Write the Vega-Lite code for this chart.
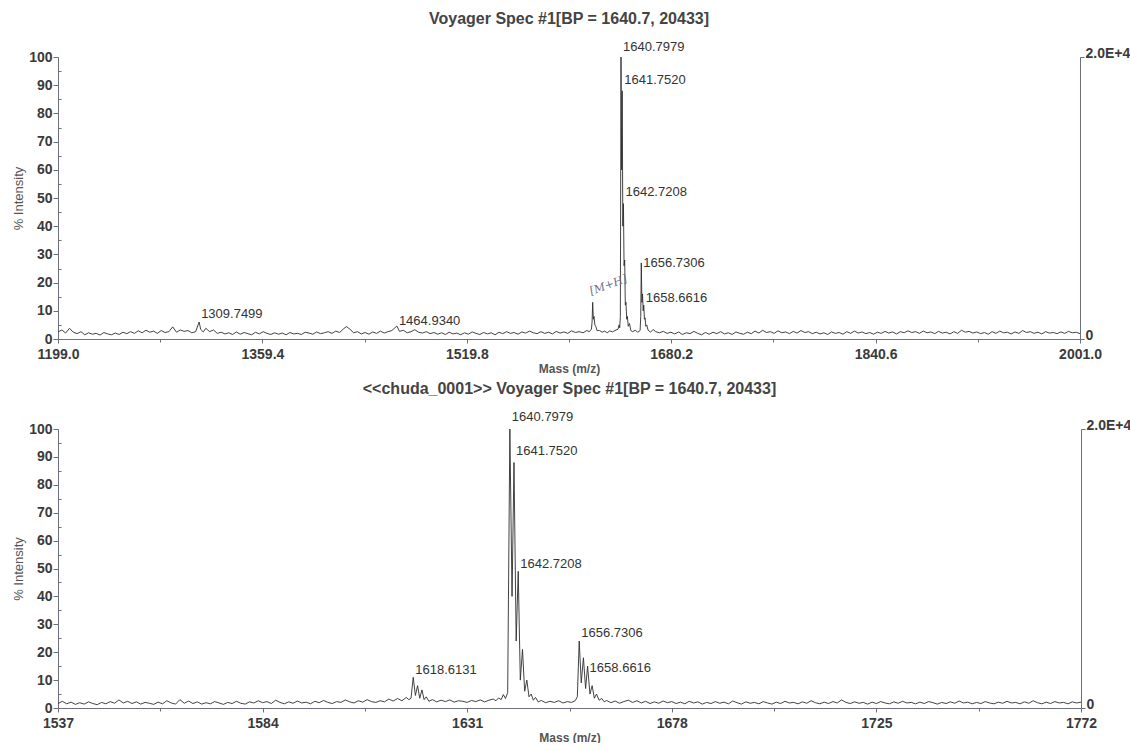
{
  "$schema": "https://vega.github.io/schema/vega-lite/v6.json",
  "background": "white",
  "padding": {"left": 12, "top": 11, "right": 0, "bottom": 0},
  "spacing": 6,
  "config": {
    "font": "Liberation Sans",
    "view": {"stroke": null},
    "axis": {
      "grid": false,
      "labelFont": "Liberation Sans",
      "labelFontWeight": "bold",
      "labelFontSize": 14,
      "labelColor": "#3a3a3a",
      "domainColor": "#6e6e80",
      "tickColor": "#6e6e80",
      "titleFont": "Liberation Sans",
      "titleColor": "#555555"
    },
    "title": {"font": "Liberation Sans", "fontSize": 16, "fontWeight": "bold", "color": "#444444", "baseline": "bottom", "offset": 14}
  },
  "datasets": {
    "top": [
      {"mz":1199,"intensity":2.5},{"mz":1202,"intensity":3.2},{"mz":1205,"intensity":2.1},{"mz":1208,"intensity":3.8},{"mz":1211,"intensity":2.4},{"mz":1214,"intensity":1.9},{"mz":1217,"intensity":2.6},{"mz":1220,"intensity":1.5},{"mz":1223,"intensity":2.2},{"mz":1226,"intensity":1.7},{"mz":1229,"intensity":2.0},{"mz":1232,"intensity":1.4},{"mz":1235,"intensity":2.3},{"mz":1238,"intensity":1.8},{"mz":1241,"intensity":1.5},{"mz":1244,"intensity":2.1},{"mz":1247,"intensity":1.6},{"mz":1250,"intensity":2.4},{"mz":1253,"intensity":1.9},{"mz":1256,"intensity":2.6},{"mz":1259,"intensity":2.0},{"mz":1262,"intensity":2.9},{"mz":1265,"intensity":2.2},{"mz":1268,"intensity":3.1},{"mz":1271,"intensity":2.4},{"mz":1274,"intensity":2.8},{"mz":1277,"intensity":2.0},{"mz":1280,"intensity":3.0},{"mz":1283,"intensity":2.3},{"mz":1286,"intensity":2.6},{"mz":1289,"intensity":4.3},{"mz":1292,"intensity":2.4},{"mz":1295,"intensity":3.2},{"mz":1298,"intensity":2.7},{"mz":1301,"intensity":3.0},{"mz":1304,"intensity":2.2},{"mz":1307,"intensity":2.6},{"mz":1309.75,"intensity":6.0},{"mz":1311,"intensity":3.4},{"mz":1313,"intensity":2.5},{"mz":1315,"intensity":3.8},{"mz":1318,"intensity":2.6},{"mz":1321,"intensity":3.2},{"mz":1324,"intensity":2.0},{"mz":1327,"intensity":2.4},{"mz":1330,"intensity":1.8},{"mz":1333,"intensity":2.2},{"mz":1336,"intensity":1.6},{"mz":1339,"intensity":2.5},{"mz":1342,"intensity":1.7},{"mz":1345,"intensity":2.3},{"mz":1348,"intensity":1.9},{"mz":1351,"intensity":1.5},{"mz":1354,"intensity":2.4},{"mz":1357,"intensity":1.8},{"mz":1360,"intensity":2.6},{"mz":1363,"intensity":2.0},{"mz":1366,"intensity":1.6},{"mz":1369,"intensity":2.2},{"mz":1372,"intensity":1.7},{"mz":1375,"intensity":2.1},{"mz":1378,"intensity":1.5},{"mz":1381,"intensity":2.3},{"mz":1384,"intensity":1.8},{"mz":1387,"intensity":2.0},{"mz":1390,"intensity":1.6},{"mz":1393,"intensity":2.4},{"mz":1396,"intensity":2.1},{"mz":1399,"intensity":1.7},{"mz":1402,"intensity":2.5},{"mz":1405,"intensity":1.9},{"mz":1408,"intensity":2.2},{"mz":1411,"intensity":2.6},{"mz":1414,"intensity":2.0},{"mz":1417,"intensity":2.8},{"mz":1420,"intensity":2.3},{"mz":1423,"intensity":3.6},{"mz":1425.5,"intensity":4.4},{"mz":1428,"intensity":3.5},{"mz":1431,"intensity":2.2},{"mz":1434,"intensity":2.6},{"mz":1437,"intensity":1.8},{"mz":1440,"intensity":2.3},{"mz":1443,"intensity":1.7},{"mz":1446,"intensity":2.5},{"mz":1449,"intensity":2.0},{"mz":1452,"intensity":2.8},{"mz":1455,"intensity":2.1},{"mz":1458,"intensity":2.6},{"mz":1461,"intensity":3.0},{"mz":1464.9,"intensity":4.6},{"mz":1467,"intensity":2.7},{"mz":1470,"intensity":3.1},{"mz":1473,"intensity":2.2},{"mz":1476,"intensity":2.6},{"mz":1479,"intensity":3.3},{"mz":1482,"intensity":2.4},{"mz":1485,"intensity":2.1},{"mz":1488,"intensity":2.6},{"mz":1491,"intensity":1.9},{"mz":1494,"intensity":2.3},{"mz":1497,"intensity":1.7},{"mz":1500,"intensity":2.2},{"mz":1503,"intensity":1.6},{"mz":1506,"intensity":2.4},{"mz":1509,"intensity":1.8},{"mz":1512,"intensity":2.1},{"mz":1515,"intensity":1.5},{"mz":1518,"intensity":2.2},{"mz":1521,"intensity":1.7},{"mz":1524,"intensity":2.5},{"mz":1527,"intensity":2.0},{"mz":1530,"intensity":1.6},{"mz":1533,"intensity":2.3},{"mz":1536,"intensity":1.8},{"mz":1539,"intensity":2.2},{"mz":1542,"intensity":1.5},{"mz":1545,"intensity":2.4},{"mz":1548,"intensity":1.9},{"mz":1551,"intensity":2.6},{"mz":1554,"intensity":2.0},{"mz":1557,"intensity":2.3},{"mz":1560,"intensity":1.7},{"mz":1563,"intensity":2.5},{"mz":1566,"intensity":2.1},{"mz":1569,"intensity":2.8},{"mz":1572,"intensity":2.2},{"mz":1575,"intensity":1.9},{"mz":1578,"intensity":2.6},{"mz":1581,"intensity":2.0},{"mz":1584,"intensity":2.4},{"mz":1587,"intensity":1.8},{"mz":1590,"intensity":2.7},{"mz":1593,"intensity":2.1},{"mz":1596,"intensity":2.5},{"mz":1599,"intensity":2.0},{"mz":1602,"intensity":2.9},{"mz":1605,"intensity":2.3},{"mz":1608,"intensity":2.6},{"mz":1611,"intensity":2.2},{"mz":1614,"intensity":3.0},{"mz":1616,"intensity":2.6},{"mz":1617.6,"intensity":3.5},{"mz":1618.1,"intensity":6.0},{"mz":1618.6,"intensity":13.0},{"mz":1619.1,"intensity":7.0},{"mz":1619.6,"intensity":8.0},{"mz":1620.3,"intensity":5.0},{"mz":1621,"intensity":4.5},{"mz":1622,"intensity":3.0},{"mz":1624,"intensity":3.0},{"mz":1626,"intensity":2.4},{"mz":1628,"intensity":2.8},{"mz":1630,"intensity":2.2},{"mz":1632,"intensity":2.9},{"mz":1634,"intensity":2.5},{"mz":1636,"intensity":3.0},{"mz":1638.5,"intensity":3.5},{"mz":1639.3,"intensity":5.0},{"mz":1639.8,"intensity":4.0},{"mz":1640.3,"intensity":8.0},{"mz":1640.8,"intensity":100},{"mz":1641.3,"intensity":60},{"mz":1641.75,"intensity":88},{"mz":1642.25,"intensity":40},{"mz":1642.72,"intensity":48},{"mz":1643.2,"intensity":26},{"mz":1643.7,"intensity":28},{"mz":1644.2,"intensity":12},{"mz":1644.7,"intensity":13},{"mz":1645.3,"intensity":7},{"mz":1645.8,"intensity":8},{"mz":1646.5,"intensity":4.5},{"mz":1647.5,"intensity":5.5},{"mz":1648.5,"intensity":3.0},{"mz":1650,"intensity":2.6},{"mz":1652,"intensity":3.1},{"mz":1654,"intensity":2.4},{"mz":1655.8,"intensity":3.0},{"mz":1656.3,"intensity":8},{"mz":1656.73,"intensity":27},{"mz":1657.2,"intensity":13},{"mz":1657.7,"intensity":16},{"mz":1658.2,"intensity":10},{"mz":1658.66,"intensity":12},{"mz":1659.2,"intensity":7},{"mz":1659.7,"intensity":7.5},{"mz":1660.3,"intensity":4.5},{"mz":1661,"intensity":5.0},{"mz":1662,"intensity":3.2},{"mz":1664,"intensity":2.4},{"mz":1666,"intensity":3.4},{"mz":1668,"intensity":2.6},{"mz":1671,"intensity":2.2},{"mz":1674,"intensity":2.7},{"mz":1677,"intensity":2.0},{"mz":1680,"intensity":2.4},{"mz":1683,"intensity":1.8},{"mz":1686,"intensity":2.5},{"mz":1689,"intensity":1.6},{"mz":1692,"intensity":2.2},{"mz":1695,"intensity":1.9},{"mz":1698,"intensity":2.7},{"mz":1701,"intensity":2.0},{"mz":1704,"intensity":1.5},{"mz":1707,"intensity":2.3},{"mz":1710,"intensity":1.7},{"mz":1713,"intensity":2.4},{"mz":1716,"intensity":1.9},{"mz":1719,"intensity":2.6},{"mz":1722,"intensity":1.8},{"mz":1725,"intensity":2.2},{"mz":1728,"intensity":1.6},{"mz":1731,"intensity":2.5},{"mz":1734,"intensity":2.0},{"mz":1737,"intensity":1.7},{"mz":1740,"intensity":2.4},{"mz":1743,"intensity":1.9},{"mz":1746,"intensity":2.8},{"mz":1749,"intensity":2.1},{"mz":1752,"intensity":3.1},{"mz":1755,"intensity":2.3},{"mz":1758,"intensity":2.6},{"mz":1761,"intensity":2.0},{"mz":1764,"intensity":2.9},{"mz":1767,"intensity":2.2},{"mz":1770,"intensity":2.5},{"mz":1773,"intensity":1.9},{"mz":1776,"intensity":2.7},{"mz":1779,"intensity":2.1},{"mz":1782,"intensity":3.0},{"mz":1785,"intensity":2.3},{"mz":1788,"intensity":2.6},{"mz":1791,"intensity":1.9},{"mz":1794,"intensity":2.4},{"mz":1797,"intensity":1.8},{"mz":1800,"intensity":2.2},{"mz":1803,"intensity":1.6},{"mz":1806,"intensity":2.5},{"mz":1809,"intensity":2.0},{"mz":1812,"intensity":2.3},{"mz":1815,"intensity":1.7},{"mz":1818,"intensity":2.6},{"mz":1821,"intensity":2.0},{"mz":1824,"intensity":2.8},{"mz":1827,"intensity":2.1},{"mz":1830,"intensity":2.5},{"mz":1833,"intensity":1.9},{"mz":1836,"intensity":2.3},{"mz":1839,"intensity":1.7},{"mz":1842,"intensity":2.4},{"mz":1845,"intensity":2.0},{"mz":1848,"intensity":2.7},{"mz":1851,"intensity":2.1},{"mz":1854,"intensity":2.5},{"mz":1857,"intensity":1.8},{"mz":1860,"intensity":2.6},{"mz":1863,"intensity":2.2},{"mz":1866,"intensity":2.9},{"mz":1869,"intensity":2.3},{"mz":1872,"intensity":2.6},{"mz":1875,"intensity":2.0},{"mz":1878,"intensity":2.8},{"mz":1881,"intensity":2.2},{"mz":1884,"intensity":2.5},{"mz":1887,"intensity":1.9},{"mz":1890,"intensity":2.7},{"mz":1893,"intensity":2.1},{"mz":1896,"intensity":2.4},{"mz":1899,"intensity":1.8},{"mz":1902,"intensity":2.6},{"mz":1905,"intensity":2.0},{"mz":1908,"intensity":3.1},{"mz":1911,"intensity":2.4},{"mz":1914,"intensity":2.7},{"mz":1917,"intensity":2.1},{"mz":1920,"intensity":2.5},{"mz":1923,"intensity":1.9},{"mz":1926,"intensity":2.3},{"mz":1929,"intensity":1.7},{"mz":1932,"intensity":2.6},{"mz":1935,"intensity":2.0},{"mz":1938,"intensity":2.8},{"mz":1941,"intensity":2.2},{"mz":1944,"intensity":2.4},{"mz":1947,"intensity":1.8},{"mz":1950,"intensity":2.5},{"mz":1953,"intensity":2.0},{"mz":1956,"intensity":3.0},{"mz":1959,"intensity":2.3},{"mz":1962,"intensity":2.6},{"mz":1965,"intensity":2.0},{"mz":1968,"intensity":2.4},{"mz":1971,"intensity":1.8},{"mz":1974,"intensity":2.6},{"mz":1977,"intensity":2.1},{"mz":1980,"intensity":2.3},{"mz":1983,"intensity":1.9},{"mz":1986,"intensity":2.5},{"mz":1989,"intensity":2.0},{"mz":1992,"intensity":2.7},{"mz":1995,"intensity":2.2},{"mz":1998,"intensity":2.4},{"mz":2001,"intensity":1.9}
    ],
    "topLabels": [
      {"mz":1640.7979,"intensity":102,"label":"1640.7979"},
      {"mz":1641.752,"intensity":90.4,"label":"1641.7520"},
      {"mz":1642.7208,"intensity":50.7,"label":"1642.7208"},
      {"mz":1656.7306,"intensity":25.5,"label":"1656.7306"},
      {"mz":1658.6616,"intensity":13.1,"label":"1658.6616"},
      {"mz":1309.7499,"intensity":7.4,"label":"1309.7499"},
      {"mz":1464.934,"intensity":5.0,"label":"1464.9340"}
    ],
    "topNote": [
      {"mz":1631,"intensity":19,"label":"[M+H]"}
    ],
    "bottom": [
      {"mz":1537,"intensity":1.6},{"mz":1538,"intensity":2.4},{"mz":1539,"intensity":1.5},{"mz":1540,"intensity":2.1},{"mz":1541,"intensity":1.3},{"mz":1542,"intensity":1.9},{"mz":1543,"intensity":1.4},{"mz":1544,"intensity":2.2},{"mz":1545,"intensity":1.6},{"mz":1546,"intensity":1.2},{"mz":1547,"intensity":2.0},{"mz":1548,"intensity":1.5},{"mz":1549,"intensity":2.3},{"mz":1550,"intensity":1.7},{"mz":1551,"intensity":2.9},{"mz":1552,"intensity":1.8},{"mz":1553,"intensity":2.4},{"mz":1554,"intensity":1.6},{"mz":1555,"intensity":2.2},{"mz":1556,"intensity":1.4},{"mz":1557,"intensity":2.0},{"mz":1558,"intensity":1.7},{"mz":1559,"intensity":1.3},{"mz":1560,"intensity":2.1},{"mz":1561,"intensity":1.5},{"mz":1562,"intensity":2.6},{"mz":1563,"intensity":1.8},{"mz":1564,"intensity":1.4},{"mz":1565,"intensity":3.0},{"mz":1566,"intensity":1.7},{"mz":1567,"intensity":2.5},{"mz":1568,"intensity":1.6},{"mz":1569,"intensity":2.2},{"mz":1570,"intensity":1.4},{"mz":1571,"intensity":1.9},{"mz":1572,"intensity":1.5},{"mz":1573,"intensity":2.3},{"mz":1574,"intensity":1.8},{"mz":1575,"intensity":1.3},{"mz":1576,"intensity":2.0},{"mz":1577,"intensity":1.6},{"mz":1578,"intensity":2.4},{"mz":1579,"intensity":1.7},{"mz":1580,"intensity":1.4},{"mz":1581,"intensity":2.2},{"mz":1582,"intensity":1.8},{"mz":1583,"intensity":2.6},{"mz":1584,"intensity":1.9},{"mz":1585,"intensity":2.3},{"mz":1586,"intensity":1.6},{"mz":1587,"intensity":2.8},{"mz":1588,"intensity":2.0},{"mz":1589,"intensity":1.5},{"mz":1590,"intensity":2.2},{"mz":1591,"intensity":1.7},{"mz":1592,"intensity":2.5},{"mz":1593,"intensity":1.8},{"mz":1594,"intensity":2.1},{"mz":1595,"intensity":1.5},{"mz":1596,"intensity":2.4},{"mz":1597,"intensity":1.9},{"mz":1598,"intensity":2.7},{"mz":1599,"intensity":2.0},{"mz":1600,"intensity":1.6},{"mz":1601,"intensity":2.3},{"mz":1602,"intensity":2.0},{"mz":1603,"intensity":2.9},{"mz":1604,"intensity":2.2},{"mz":1605,"intensity":1.8},{"mz":1606,"intensity":2.6},{"mz":1607,"intensity":2.1},{"mz":1608,"intensity":3.0},{"mz":1609,"intensity":2.3},{"mz":1610,"intensity":2.0},{"mz":1611,"intensity":2.6},{"mz":1612,"intensity":2.2},{"mz":1613,"intensity":3.2},{"mz":1614,"intensity":2.5},{"mz":1615,"intensity":3.4},{"mz":1616,"intensity":2.6},{"mz":1617,"intensity":3.8},{"mz":1617.6,"intensity":3.0},{"mz":1618.1,"intensity":3.5},{"mz":1618.6,"intensity":11.0},{"mz":1619.1,"intensity":4.5},{"mz":1619.6,"intensity":8.0},{"mz":1620.1,"intensity":3.5},{"mz":1620.6,"intensity":6.5},{"mz":1621.1,"intensity":3.0},{"mz":1621.6,"intensity":4.0},{"mz":1622.2,"intensity":2.4},{"mz":1623,"intensity":3.0},{"mz":1624,"intensity":2.2},{"mz":1625,"intensity":2.8},{"mz":1626,"intensity":2.3},{"mz":1627,"intensity":2.9},{"mz":1628,"intensity":2.1},{"mz":1629,"intensity":2.6},{"mz":1630,"intensity":2.4},{"mz":1631,"intensity":2.0},{"mz":1632,"intensity":2.7},{"mz":1633,"intensity":2.3},{"mz":1634,"intensity":2.9},{"mz":1635,"intensity":2.2},{"mz":1636,"intensity":2.8},{"mz":1637,"intensity":3.2},{"mz":1637.6,"intensity":2.6},{"mz":1638.2,"intensity":3.6},{"mz":1638.8,"intensity":3.0},{"mz":1639.3,"intensity":4.8},{"mz":1639.8,"intensity":3.4},{"mz":1640.3,"intensity":5.5},{"mz":1640.8,"intensity":100},{"mz":1641.3,"intensity":40},{"mz":1641.75,"intensity":88},{"mz":1642.25,"intensity":24},{"mz":1642.72,"intensity":49},{"mz":1643.2,"intensity":10},{"mz":1643.7,"intensity":21},{"mz":1644.2,"intensity":6},{"mz":1644.7,"intensity":10},{"mz":1645.2,"intensity":4},{"mz":1645.7,"intensity":5},{"mz":1646.2,"intensity":2.8},{"mz":1646.7,"intensity":3.8},{"mz":1647.3,"intensity":2.2},{"mz":1648,"intensity":2.7},{"mz":1649,"intensity":1.9},{"mz":1650,"intensity":2.4},{"mz":1651,"intensity":2.0},{"mz":1652,"intensity":2.6},{"mz":1653,"intensity":1.8},{"mz":1654,"intensity":2.3},{"mz":1655,"intensity":2.0},{"mz":1655.8,"intensity":2.6},{"mz":1656.3,"intensity":4.0},{"mz":1656.73,"intensity":24},{"mz":1657.2,"intensity":9},{"mz":1657.7,"intensity":18},{"mz":1658.2,"intensity":7},{"mz":1658.66,"intensity":15},{"mz":1659.2,"intensity":5},{"mz":1659.7,"intensity":8},{"mz":1660.2,"intensity":3.5},{"mz":1660.7,"intensity":5},{"mz":1661.3,"intensity":2.8},{"mz":1661.9,"intensity":3.4},{"mz":1662.5,"intensity":2.2},{"mz":1663,"intensity":2.7},{"mz":1664,"intensity":1.9},{"mz":1665,"intensity":2.5},{"mz":1666,"intensity":1.7},{"mz":1667,"intensity":2.3},{"mz":1668,"intensity":2.8},{"mz":1669,"intensity":2.0},{"mz":1670,"intensity":2.6},{"mz":1671,"intensity":1.8},{"mz":1672,"intensity":2.4},{"mz":1673,"intensity":1.6},{"mz":1674,"intensity":2.2},{"mz":1675,"intensity":1.7},{"mz":1676,"intensity":2.5},{"mz":1677,"intensity":1.9},{"mz":1678,"intensity":2.3},{"mz":1679,"intensity":1.6},{"mz":1680,"intensity":2.1},{"mz":1681,"intensity":1.5},{"mz":1682,"intensity":2.4},{"mz":1683,"intensity":1.8},{"mz":1684,"intensity":2.2},{"mz":1685,"intensity":1.4},{"mz":1686,"intensity":2.0},{"mz":1687,"intensity":1.6},{"mz":1688,"intensity":2.3},{"mz":1689,"intensity":1.7},{"mz":1690,"intensity":2.1},{"mz":1691,"intensity":1.5},{"mz":1692,"intensity":2.5},{"mz":1693,"intensity":1.9},{"mz":1694,"intensity":1.4},{"mz":1695,"intensity":2.2},{"mz":1696,"intensity":1.7},{"mz":1697,"intensity":2.0},{"mz":1698,"intensity":1.5},{"mz":1699,"intensity":2.3},{"mz":1700,"intensity":1.8},{"mz":1701,"intensity":1.4},{"mz":1702,"intensity":2.1},{"mz":1703,"intensity":1.6},{"mz":1704,"intensity":2.4},{"mz":1705,"intensity":1.8},{"mz":1706,"intensity":2.0},{"mz":1707,"intensity":1.5},{"mz":1708,"intensity":2.2},{"mz":1709,"intensity":1.7},{"mz":1710,"intensity":2.6},{"mz":1711,"intensity":1.9},{"mz":1712,"intensity":1.5},{"mz":1713,"intensity":2.1},{"mz":1714,"intensity":1.6},{"mz":1715,"intensity":2.3},{"mz":1716,"intensity":1.8},{"mz":1717,"intensity":2.9},{"mz":1718,"intensity":2.0},{"mz":1719,"intensity":1.6},{"mz":1720,"intensity":2.2},{"mz":1721,"intensity":1.7},{"mz":1722,"intensity":2.0},{"mz":1723,"intensity":1.4},{"mz":1724,"intensity":2.1},{"mz":1725,"intensity":1.6},{"mz":1726,"intensity":2.3},{"mz":1727,"intensity":1.8},{"mz":1728,"intensity":1.5},{"mz":1729,"intensity":2.2},{"mz":1730,"intensity":1.7},{"mz":1731,"intensity":2.4},{"mz":1732,"intensity":1.8},{"mz":1733,"intensity":2.0},{"mz":1734,"intensity":1.5},{"mz":1735,"intensity":2.1},{"mz":1736,"intensity":1.6},{"mz":1737,"intensity":2.3},{"mz":1738,"intensity":1.9},{"mz":1739,"intensity":1.4},{"mz":1740,"intensity":2.0},{"mz":1741,"intensity":1.6},{"mz":1742,"intensity":2.2},{"mz":1743,"intensity":1.7},{"mz":1744,"intensity":2.5},{"mz":1745,"intensity":1.8},{"mz":1746,"intensity":2.1},{"mz":1747,"intensity":1.5},{"mz":1748,"intensity":2.0},{"mz":1749,"intensity":1.6},{"mz":1750,"intensity":2.3},{"mz":1751,"intensity":1.8},{"mz":1752,"intensity":1.5},{"mz":1753,"intensity":2.1},{"mz":1754,"intensity":1.7},{"mz":1755,"intensity":2.4},{"mz":1756,"intensity":1.8},{"mz":1757,"intensity":2.0},{"mz":1758,"intensity":1.5},{"mz":1759,"intensity":2.2},{"mz":1760,"intensity":1.7},{"mz":1761,"intensity":2.6},{"mz":1762,"intensity":1.9},{"mz":1763,"intensity":1.5},{"mz":1764,"intensity":2.1},{"mz":1765,"intensity":1.6},{"mz":1766,"intensity":2.3},{"mz":1767,"intensity":1.8},{"mz":1768,"intensity":2.0},{"mz":1769,"intensity":1.5},{"mz":1770,"intensity":2.2},{"mz":1771,"intensity":1.8},{"mz":1772,"intensity":2.1}
    ],
    "bottomLabels": [
      {"mz":1640.7979,"intensity":103,"label":"1640.7979"},
      {"mz":1641.752,"intensity":90.7,"label":"1641.7520"},
      {"mz":1642.7208,"intensity":50.2,"label":"1642.7208"},
      {"mz":1656.7306,"intensity":25.4,"label":"1656.7306"},
      {"mz":1658.6616,"intensity":12.9,"label":"1658.6616"},
      {"mz":1618.6131,"intensity":12.2,"label":"1618.6131"}
    ]
  },
  "vconcat": [
    {
      "title": {"text": "Voyager Spec #1[BP = 1640.7, 20433]"},
      "width": 1022,
      "height": 282,
      "layer": [
        {
          "data": {"name": "top"},
          "mark": {"type": "line", "color": "#2e2e2e", "strokeWidth": 0.9, "interpolate": "linear"},
          "encoding": {
            "x": {"field": "mz", "type": "quantitative", "scale": {"domain": [1199, 2001], "nice": false, "zero": false},
              "axis": {"orient": "bottom", "values": [1199, 1359.4, 1519.8, 1680.2, 1840.6, 2001], "format": ".1f", "title": "Mass (m/z)", "titleFontWeight": "bold", "titleFontSize": 12, "titlePadding": 2, "tickSize": 4, "labelPadding": 4, "labelFlush": false}},
            "y": {"field": "intensity", "type": "quantitative", "scale": {"domain": [0, 100], "nice": false},
              "axis": {"orient": "left", "values": [0,10,20,30,40,50,60,70,80,90,100], "title": "% Intensity", "titleFontWeight": "normal", "titleFontSize": 13, "titlePadding": 3, "tickSize": 5, "labelPadding": 1}}
          }
        },
        {
          "data": {"name": "topLabels"},
          "mark": {"type": "text", "align": "left", "baseline": "alphabetic", "dx": 2, "fontSize": 13, "color": "#333333", "font": "Liberation Sans"},
          "encoding": {
            "x": {"field": "mz", "type": "quantitative", "scale": {"domain": [1199, 2001], "nice": false, "zero": false},
              "axis": {"orient": "bottom", "values": [1279.2, 1439.6, 1600, 1760.4, 1920.8], "labels": false, "domain": false, "tickSize": 3, "title": null}},
            "y": {"field": "intensity", "type": "quantitative", "scale": {"domain": [0, 100], "nice": false},
              "axis": {"orient": "right", "values": [0, 100], "labelExpr": "datum.value == 0 ? '0' : '2.0E+4'", "labelBaseline": "alphabetic", "tickSize": 4, "labelPadding": 1, "title": null}},
            "text": {"field": "label"}
          }
        },
        {
          "data": {"name": "topNote"},
          "mark": {"type": "text", "align": "center", "angle": 340, "fontSize": 11, "fontStyle": "italic", "color": "#6a6a85", "font": "DejaVu Serif"},
          "encoding": {
            "x": {"field": "mz", "type": "quantitative", "scale": {"domain": [1199, 2001], "nice": false, "zero": false}, "axis": null},
            "y": {"field": "intensity", "type": "quantitative", "scale": {"domain": [0, 100], "nice": false},
              "axis": {"orient": "left", "values": [5,15,25,35,45,55,65,75,85,95], "labels": false, "domain": false, "tickSize": -3, "title": null}},
            "text": {"field": "label"}
          }
        }
      ],
      "resolve": {"axis": {"x": "independent", "y": "independent"}}
    },
    {
      "title": {"text": "<<chuda_0001>> Voyager Spec #1[BP = 1640.7, 20433]"},
      "width": 1023,
      "height": 279,
      "layer": [
        {
          "data": {"name": "bottom"},
          "mark": {"type": "line", "color": "#2e2e2e", "strokeWidth": 0.9, "interpolate": "linear"},
          "encoding": {
            "x": {"field": "mz", "type": "quantitative", "scale": {"domain": [1537, 1772], "nice": false, "zero": false},
              "axis": {"orient": "bottom", "values": [1537, 1584, 1631, 1678, 1725, 1772], "format": "d", "title": "Mass (m/z)", "titleFontWeight": "bold", "titleFontSize": 12, "titlePadding": 2, "tickSize": 4, "labelPadding": 4, "labelFlush": false}},
            "y": {"field": "intensity", "type": "quantitative", "scale": {"domain": [0, 100], "nice": false},
              "axis": {"orient": "left", "values": [0,10,20,30,40,50,60,70,80,90,100], "title": "% Intensity", "titleFontWeight": "normal", "titleFontSize": 13, "titlePadding": 3, "tickSize": 5, "labelPadding": 1}}
          }
        },
        {
          "data": {"name": "bottomLabels"},
          "mark": {"type": "text", "align": "left", "baseline": "alphabetic", "dx": 2, "fontSize": 13, "color": "#333333", "font": "Liberation Sans"},
          "encoding": {
            "x": {"field": "mz", "type": "quantitative", "scale": {"domain": [1537, 1772], "nice": false, "zero": false},
              "axis": {"orient": "bottom", "values": [1560.5, 1607.5, 1654.5, 1701.5, 1748.5], "labels": false, "domain": false, "tickSize": 3, "title": null}},
            "y": {"field": "intensity", "type": "quantitative", "scale": {"domain": [0, 100], "nice": false},
              "axis": {"orient": "right", "values": [0, 100], "labelExpr": "datum.value == 0 ? '0' : '2.0E+4'", "labelBaseline": "alphabetic", "tickSize": 4, "labelPadding": 1, "title": null}},
            "text": {"field": "label"}
          }
        },
        {
          "data": {"name": "bottomLabels"},
          "mark": {"type": "point", "opacity": 0},
          "encoding": {
            "x": {"field": "mz", "type": "quantitative", "scale": {"domain": [1537, 1772], "nice": false, "zero": false}, "axis": null},
            "y": {"field": "intensity", "type": "quantitative", "scale": {"domain": [0, 100], "nice": false},
              "axis": {"orient": "left", "values": [5,15,25,35,45,55,65,75,85,95], "labels": false, "domain": false, "tickSize": -3, "title": null}}
          }
        }
      ],
      "resolve": {"axis": {"x": "independent", "y": "independent"}}
    }
  ]
}
